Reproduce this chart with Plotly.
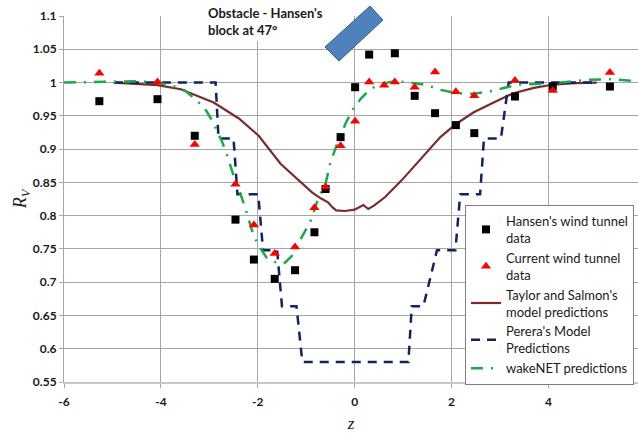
import plotly.graph_objects as go

# Hansen's wind tunnel data
hansen_z = [-5.27, -4.07, -3.30, -2.46, -2.08, -1.65, -1.23, -0.83, -0.60, -0.29,
            0.01, 0.30, 0.83, 1.24, 1.66, 2.09, 2.47, 3.31, 4.09, 5.27]
hansen_rv = [0.972, 0.975, 0.920, 0.794, 0.734, 0.705, 0.718, 0.775, 0.840, 0.918,
             0.993, 1.042, 1.044, 0.980, 0.954, 0.936, 0.924, 0.979, 0.994, 0.994]

# Current wind tunnel data
current_z = [-5.27, -4.07, -3.30, -2.46, -2.08, -1.65, -1.23, -0.83, -0.60, -0.29,
             0.01, 0.30, 0.61, 0.83, 1.24, 1.66, 2.09, 2.47, 3.31, 4.09, 5.27]
current_rv = [1.014, 1.001, 0.907, 0.847, 0.786, 0.743, 0.753, 0.812, 0.843, 0.905,
              0.942, 1.001, 0.996, 1.001, 0.993, 1.016, 0.986, 0.980, 1.003, 0.988, 1.015]

# Taylor and Salmon's model predictions
taylor_z = [-4.97, -4.07, -3.59, -2.91, -2.39, -1.98, -1.53, -1.12, -0.88, -0.70,
            -0.55, -0.45, -0.38, -0.20, 0.00, 0.18, 0.28, 0.40, 0.63, 0.97,
            1.35, 1.77, 2.08, 2.45, 2.87, 3.28, 3.70, 4.10, 4.55, 5.00]
taylor_rv = [1.000, 0.996, 0.990, 0.970, 0.946, 0.920, 0.878, 0.850, 0.835, 0.826,
             0.820, 0.812, 0.808, 0.807, 0.809, 0.816, 0.810, 0.815, 0.828, 0.853,
             0.884, 0.918, 0.937, 0.955, 0.970, 0.984, 0.992, 0.997, 0.999, 1.000]

# Perera's model predictions (step profile)
perera_z = [-4.97, -2.87, -2.81, -2.50, -2.42, -1.99, -1.89, -1.60, -1.50, -1.20,
            -1.08, 1.11, 1.18, 1.42, 1.70, 2.08, 2.18, 2.59, 2.67, 3.02, 3.18, 5.00]
perera_rv = [1.000, 1.000, 0.916, 0.916, 0.832, 0.832, 0.748, 0.748, 0.664, 0.664,
             0.580, 0.580, 0.664, 0.664, 0.748, 0.748, 0.832, 0.832, 0.916, 0.916,
             1.000, 1.000]

# wakeNET predictions
wakenet_z = [-6.00, -5.00, -4.50, -4.07, -3.80, -3.50, -3.28, -3.11, -2.94, -2.84,
             -2.73, -2.63, -2.49, -2.36, -2.25, -2.12, -2.01, -1.81, -1.60, -1.46,
             -1.30, -1.15, -1.05, -0.91, -0.74, -0.60, -0.50, -0.36, -0.19, -0.02,
             0.12, 0.32, 0.53, 0.84, 1.15, 1.50, 1.77, 2.10, 2.45, 2.80,
             3.14, 3.42, 4.10, 4.79, 5.27, 5.85]
wakenet_rv = [1.000, 1.002, 1.002, 1.000, 0.996, 0.988, 0.974, 0.963, 0.943, 0.928,
              0.910, 0.890, 0.858, 0.833, 0.810, 0.778, 0.758, 0.736, 0.729, 0.728,
              0.739, 0.760, 0.773, 0.792, 0.828, 0.848, 0.880, 0.908, 0.938, 0.962,
              0.975, 0.990, 0.998, 1.002, 1.000, 0.996, 0.989, 0.984, 0.983, 0.987,
              0.993, 0.997, 0.999, 1.004, 1.005, 1.002]

x_ticks = [-6, -4, -2, 0, 2, 4]
y_ticks = [0.55, 0.6, 0.65, 0.7, 0.75, 0.8, 0.85, 0.9, 0.95, 1, 1.05, 1.1]
y_tick_text = ["0.55", "0.6", "0.65", "0.7", "0.75", "0.8", "0.85", "0.9", "0.95", "1", "1.05", "1.1"]

FONT = "Lato, 'Open Sans', sans-serif"
W, H = 638, 433
ML, MR, MT, MB = 64, 0, 16, 51
PW, PH = W - ML - MR, H - MT - MB


def px(xp):
    return (xp - ML) / PW


def py(yp):
    return (H - MB - yp) / PH


fig = go.Figure()

fig.add_trace(go.Scatter(
    x=taylor_z, y=taylor_rv, mode="lines",
    name="Taylor and Salmon's<br>model predictions",
    line=dict(color="#7a2b2b", width=2.2), legendrank=3))
fig.add_trace(go.Scatter(
    x=perera_z, y=perera_rv, mode="lines",
    name="Perera's Model<br>Predictions",
    line=dict(color="#0f2460", width=2.5, dash="9px,7px"), legendrank=4))
fig.add_trace(go.Scatter(
    x=wakenet_z, y=wakenet_rv, mode="lines",
    name="wakeNET predictions",
    line=dict(color="#1aaa4a", width=2.5, dash="12px,8px,2px,8px"), legendrank=5))
fig.add_trace(go.Scatter(
    x=hansen_z, y=hansen_rv, mode="markers",
    name="Hansen's wind tunnel<br>data",
    marker=dict(symbol="square", size=8, color="black"), legendrank=1))
fig.add_trace(go.Scatter(
    x=current_z, y=current_rv, mode="markers",
    name="Current wind tunnel<br>data",
    marker=dict(symbol="triangle-up", size=9, color="#ff0000"), legendrank=2))

# white box behind the obstacle label
fig.add_shape(
    type="rect", xref="paper", yref="paper",
    x0=px(197), x1=px(325), y0=py(41), y1=py(0),
    fillcolor="white", line=dict(width=0), layer="above")

# Obstacle block (decorative)
fig.add_shape(
    type="path", xref="paper", yref="paper",
    path="M {:.4f} {:.4f} L {:.4f} {:.4f} L {:.4f} {:.4f} L {:.4f} {:.4f} Z".format(
        px(325), py(47), px(339), py(61), px(383), py(20), px(370), py(6)),
    fillcolor="#4f81bd", line=dict(color="#385d8a", width=1), layer="above")

fig.add_annotation(
    xref="paper", yref="paper", x=px(206), y=py(3),
    xanchor="left", yanchor="top", align="left", showarrow=False,
    text="<b>Obstacle - Hansen's<br>block at 47°</b>",
    font=dict(family=FONT, size=13, color="#1a1a1a"))

fig.update_layout(
    width=W, height=H,
    margin=dict(l=ML, r=MR, t=MT, b=MB),
    paper_bgcolor="white", plot_bgcolor="white",
    font=dict(family=FONT, color="#1a1a1a"),
    legend=dict(
        x=px(465), y=py(205), xanchor="left", yanchor="top",
        bgcolor="white", bordercolor="#7f7f7f", borderwidth=1,
        font=dict(family=FONT, size=13, color="#1a1a1a"),
        tracegroupgap=0),
    showlegend=True,
)

fig.update_xaxes(
    range=[-6, 5.85], tickvals=x_ticks, ticktext=[str(v) for v in x_ticks],
    showgrid=True, gridcolor="#a6a6a6", gridwidth=1,
    zeroline=False, showline=True, linecolor="#c8c8c8", linewidth=2,
    ticks="outside", ticklen=4, tickcolor="#a6a6a6",
    tickfont=dict(family=FONT, size=12, color="#1a1a1a", weight="bold"),
    ticklabelstandoff=4,
    title=dict(text="<i>z</i>", font=dict(family="Liberation Serif", size=17, color="#1a1a1a"),
               standoff=9),
)
fig.update_yaxes(
    range=[0.55, 1.1], tickvals=y_ticks, ticktext=y_tick_text,
    showgrid=True, gridcolor="#a6a6a6", gridwidth=1,
    zeroline=False, showline=True, linecolor="#a6a6a6", linewidth=1,
    ticks="outside", ticklen=4, tickcolor="#a6a6a6",
    tickfont=dict(family=FONT, size=12, color="#1a1a1a", weight="bold"),
    title=dict(text="<i>R</i><sub><i>V</i></sub>",
               font=dict(family="Liberation Serif", size=18, color="#1a1a1a"),
               standoff=1),
)

fig.write_html("out.html", config={"displayModeBar": False},
               post_script="document.body.style.margin='0px';")
